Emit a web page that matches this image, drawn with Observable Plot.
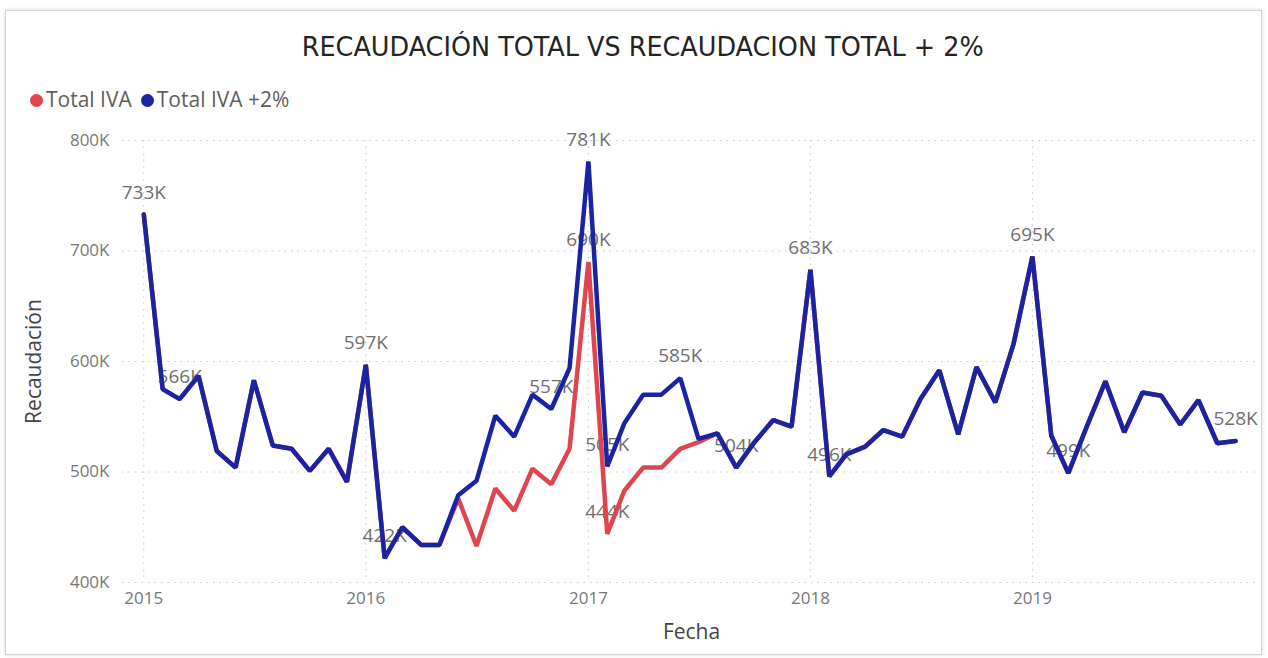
<!DOCTYPE html>
<html>
<head>
<meta charset="utf-8">
<script src="https://cdn.jsdelivr.net/npm/d3@7"></script>
<script src="https://cdn.jsdelivr.net/npm/@observablehq/plot@0.6"></script>
<style>
  html, body { margin:0; padding:0; background:#fff; width:1268px; height:658px; overflow:hidden; }
  #frame { position:absolute; left:5px; top:10px; width:1255px; height:643px; border:1px solid #d4d4d4; box-shadow:0 0 4px rgba(0,0,0,0.15); }
  #title { position:absolute; left:0; width:1286px; top:31px; text-align:center; font-family:"DejaVu Sans Condensed","Liberation Sans Narrow",Roboto,sans-serif; font-size:27px; color:#252423; }
  #title span { display:inline-block; transform:scaleX(1.05); }
  #legend { position:absolute; left:30px; top:85px; font-family:"Open Sans","Segoe UI",sans-serif; font-size:21px; color:#605E5C; white-space:nowrap; }
  #legend .txt { display:inline-block; transform-origin:left center; }
  .sw { display:inline-block; width:13px; height:13px; border-radius:50%; margin-right:3px; vertical-align:0px; }
  .item { margin-right:9px; }
  #chart { position:absolute; left:0; top:120px; }
</style>
</head>
<body>
<div id="frame"></div>
<div id="title"><span>RECAUDACIÓN TOTAL VS RECAUDACION TOTAL + 2%</span></div>
<div id="legend"></div>
<div id="chart"></div>
<script>
// ---- data (values in thousands) ----
const years = [2015, 2016, 2017, 2018, 2019];
const seriesNames = ["Total IVA", "Total IVA +2%"];
const seriesColors = ["#E0454F", "#1A24A3"];

const totalIVAmas2 = [
  733, 575, 566, 587, 519, 504, 583, 524, 521, 501, 521, 491,
  597, 422, 450, 434, 434, 479, 492, 551, 532, 570, 557, 594,
  781, 505, 544, 570, 570, 585, 530, 535, 504, 527, 547, 541,
  683, 496, 516, 523, 538, 532, 566, 592, 534, 595, 563, 616,
  695, 533, 499, 542, 582, 536, 572, 569, 543, 565, 526, 528
];
const totalIVA = [
  733, 575, 566, 587, 519, 504, 583, 524, 521, 501, 521, 491,
  597, 422, 450, 434, 434, 476, 433, 485, 465, 503, 489, 521,
  690, 444, 483, 504, 504, 521, 527, 535, 504, 527, 547, 541,
  683, 496, 516, 523, 538, 532, 566, 592, 534, 595, 563, 616,
  695, 533, 499, 542, 582, 536, 572, 569, 543, 565, 526, 528
];
// indices (month number from Jan 2015) that carry a data label
const labelIdxMas2 = [0, 2, 12, 13, 22, 24, 25, 29, 32, 36, 37, 48, 50, 59];
const labelIdxIVA = [24, 25];
const yTicks = [400, 500, 600, 700, 800];

// ---- build table ----
const dates = [];
years.forEach(y => { for (let m = 0; m < 12; m++) dates.push(new Date(Date.UTC(y, m, 1))); });
const rows = [];
dates.forEach((d, i) => {
  rows.push({date: d, value: totalIVA[i], serie: seriesNames[0], i});
  rows.push({date: d, value: totalIVAmas2[i], serie: seriesNames[1], i});
});
const labels = [
  ...labelIdxMas2.map(i => ({date: dates[i], value: totalIVAmas2[i]})),
  ...labelIdxIVA.map(i => ({date: dates[i], value: totalIVA[i]}))
];

// legend
document.getElementById("legend").innerHTML = seriesNames.map((n, k) =>
  `<span class="item"><span class="sw" style="background:${seriesColors[k]}"></span>${n}</span>`).join("");

const font = "'Segoe UI','Open Sans',sans-serif";
const yearTicks = dates.filter(d => d.getUTCMonth() === 0);
const chart = Plot.plot({
  width: 1268,
  height: 538,
  marginLeft: 122,
  marginRight: 8,
  marginTop: 20,
  marginBottom: 76,
  style: {fontFamily: font, fontSize: "17px", color: "#777", background: "transparent"},
  x: {type: "utc", domain: [new Date(Date.UTC(2014, 10, 27)), new Date(Date.UTC(2020, 0, 11))]},
  y: {domain: [400, 800]},
  color: {domain: seriesNames, range: seriesColors},
  marks: [
    Plot.gridY(yTicks, {stroke: "#c8c8c8", strokeOpacity: 1, strokeDasharray: "1.5,5"}),
    Plot.gridX(yearTicks, {stroke: "#c8c8c8", strokeOpacity: 1, strokeDasharray: "1.5,5"}),
    Plot.axisY(yTicks, {tickSize: 0, tickPadding: 13, tickFormat: d => d + "K", fontSize: 17, fill: "#777",
      label: "Recaudación", labelAnchor: "center", labelArrow: "none", labelOffset: 96}),
    Plot.axisX(yearTicks, {tickSize: 0, tickPadding: 9, tickFormat: d3.utcFormat("%Y"), fontSize: 17, fill: "#777",
      label: "Fecha", labelAnchor: "center", labelArrow: "none", labelOffset: 56}),
    Plot.text(labels, {x: "date", y: "value", text: d => d.value + "K", dy: -22, fill: "#6f6f6f", fontSize: 19, fontFamily: font}),
    Plot.line(rows, {x: "date", y: "value", z: "serie", stroke: "serie", strokeWidth: 4.5, strokeLinejoin: "miter", curve: "linear"})
  ]
});
document.getElementById("chart").appendChild(chart);
// axis titles styling
chart.querySelectorAll("g[aria-label='y-axis label'] text, g[aria-label='x-axis label'] text").forEach(t => {
  t.setAttribute("fill", "#444"); t.style.fontSize = "21px";
});
</script>
</body>
</html>
